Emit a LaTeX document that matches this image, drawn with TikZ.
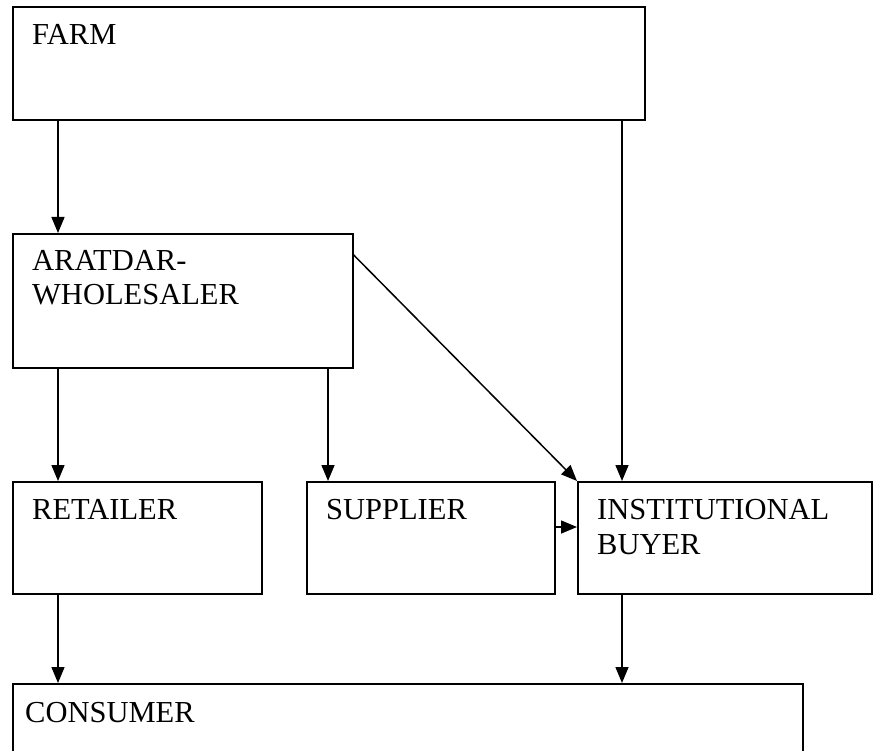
\documentclass[tikz,border=0pt]{standalone}
\usepackage{fontspec}
\setmainfont{Liberation Serif}
\usetikzlibrary{arrows.meta}

\begin{document}
\begin{tikzpicture}[x=1pt,y=-1pt,
        >={Triangle[length=16pt,width=13pt]},
        box/.style={rectangle,draw,line width=1.7pt,anchor=north west,inner sep=0pt},
        txt/.style={anchor=base west,inner sep=0pt,text width=300pt,align=left,font=\fontsize{30.5}{35}\selectfont},
        flow/.style={->,line width=1.5pt}]

        \useasboundingbox (0,0) rectangle (875,751);

        \node[box,minimum width=632pt,minimum height=113pt] (farm)   at (12,6)    {};
        \node[box,minimum width=340pt,minimum height=134pt] (arat)   at (12,233)  {};
        \node[box,minimum width=249pt,minimum height=112pt] (retail) at (12,481)  {};
        \node[box,minimum width=248pt,minimum height=112pt] (supp)   at (306,481) {};
        \node[box,minimum width=294pt,minimum height=112pt] (inst)   at (577,481) {};
        \node[box,minimum width=790pt,minimum height=68pt]  (cons)   at (12,683)  {};

        \node[txt] (farmtxt)   at ([shift={(20pt,-39pt)}]farm.north west)   {FARM};
        \node[txt] (arattxt)   at ([shift={(20pt,-37pt)}]arat.north west)   {ARATDAR-\\WHOLESALER};
        \node[txt] (retailtxt) at ([shift={(20pt,-38pt)}]retail.north west) {RETAILER};
        \node[txt] (supptxt)   at ([shift={(20pt,-38pt)}]supp.north west)   {SUPPLIER};
        \node[txt] (insttxt)   at ([shift={(20pt,-38pt)}]inst.north west)   {INSTITUTIONAL\\BUYER};
        \node[txt] (constxt)   at ([shift={(13pt,-39pt)}]cons.north west)   {CONSUMER};

        \path[flow]
                  ([xshift=46pt]farm.south west)  edge ([xshift=46pt]arat.north west)
                  ([xshift=610pt]farm.south west) edge ([xshift=45pt]inst.north west)

                  ([yshift=-22pt]arat.north east) edge (inst.north west)
                  ([xshift=46pt]arat.south west)  edge ([xshift=46pt]retail.north west)
                  ([xshift=316pt]arat.south west) edge ([xshift=22pt]supp.north west)

                  ([yshift=-46pt]supp.north east) edge ([yshift=-46pt]inst.north west)

                  ([xshift=46pt]retail.south west) edge ([xshift=46pt]cons.north west)
                  ([xshift=45pt]inst.south west)   edge ([xshift=610pt]cons.north west);
\end{tikzpicture}
\end{document}
